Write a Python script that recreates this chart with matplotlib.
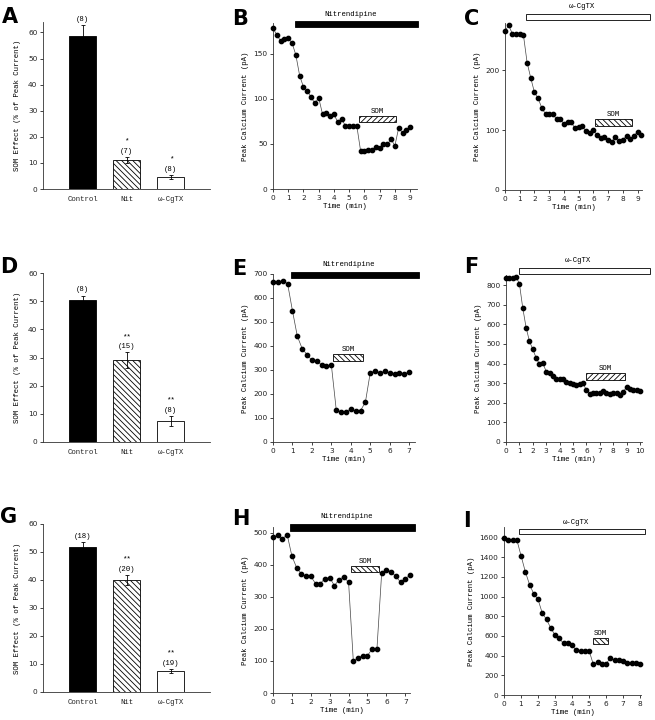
import matplotlib
matplotlib.use("Agg")
import matplotlib.pyplot as plt
import matplotlib.transforms as mtransforms
from matplotlib.patches import Rectangle

W, H = 655, 720
plt.rcParams['font.family'] = ['Liberation Mono', 'DejaVu Sans']
plt.rcParams['hatch.linewidth'] = 0.6

# ---------------- bar chart data ----------------
bar_categories = ["Control", "Nit", "\u03c9-CgTX"]
A_means = [58.5, 11.0, 4.7]
A_err = [4.5, 1.2, 0.8]
A_n = ["(8)", "(7)", "(8)"]
A_sig = ["", "*", "*"]

D_means = [50.3, 29.0, 7.5]
D_err = [1.7, 2.8, 1.7]
D_n = ["(8)", "(15)", "(8)"]
D_sig = ["", "**", "**"]

G_means = [51.7, 40.0, 7.5]
G_err = [2.0, 1.8, 0.8]
G_n = ["(18)", "(20)", "(19)"]
G_sig = ["", "**", "**"]

# ---------------- time course data ----------------
B_t = [i * 0.25 for i in range(37)]
B_y = [178, 171, 164, 166, 167, 162, 148.5, 125.6, 113, 109, 101.6, 95, 101, 83, 84, 81, 83, 74, 78,
       70, 70, 70, 70, 42, 42, 43.6, 43, 47, 45.4, 50, 49.5, 55, 48, 68, 62, 65, 68.7]
B_drug = ("Nitrendipine", 1.45, 9.5)
B_som = (5.66, 8.05)

C_t = [i * 0.25 for i in range(38)]
C_y = [265.6, 275, 261, 261, 261, 259, 213, 187, 163, 153, 137, 127, 127, 127, 118, 119.4, 110, 113, 113,
       103, 105.6, 106.7, 98, 96, 100, 91.7, 87, 89, 82.8, 80.6, 89, 82, 83, 91, 85.6, 91, 96.7, 92]
C_drug = ("\u03c9-CgTX", 1.4, 9.84)
C_som = (6.1, 8.63)

E_t = [i * 0.25 for i in range(29)]
E_y = [665, 667, 672, 660, 547, 441, 389, 364, 340, 336, 322, 315, 321, 135, 124, 125.5, 138, 128, 131,
       166, 289, 296, 289, 294, 286, 283, 289, 283, 293]
E_drug = ("Nitrendipine", 0.93, 7.5)
E_som = (3.1, 4.64)

F_t = [i * 0.25 for i in range(41)]
F_y = [839, 839, 839, 843, 808, 684, 584, 514, 473, 429, 397, 403, 359, 354, 337, 320, 322, 322, 308,
       301, 294, 293, 294, 300, 264, 245, 250, 250, 252, 260, 252, 243, 252, 252, 240, 257, 279, 271,
       265, 264, 262]
F_drug = ("\u03c9-CgTX", 0.98, 10.78)
F_som = (5.96, 8.85)

H_t = [i * 0.25 for i in range(30)]
H_y = [486.5, 492, 481, 494, 427.5, 391, 372, 364, 364, 341.6, 341.6, 357, 360, 335, 354, 363, 345,
       100, 110, 117, 117, 137, 137, 374, 385, 378, 364, 346, 357, 367.5]
H_drug = ("Nitrendipine", 0.92, 7.54)
H_som = (4.13, 5.6)

I_t = [i * 0.25 for i in range(33)]
I_y = [1600, 1580, 1573, 1580, 1417, 1255, 1123, 1028, 971, 832, 768, 680, 609, 575, 524, 531, 507, 453,
       450, 443, 450, 311, 335, 311, 318, 375, 352, 355, 342, 321, 325, 328, 311]
I_drug = ("\u03c9-CgTX", 0.86, 8.27)
I_som = (5.21, 6.1)

fig = plt.figure(figsize=(W / 100, H / 100), dpi=100)


def rect(l, r, b, t):
    return [l / W, 1 - b / H, (r - l) / W, (b - t) / H]


FS = 5.3


def style(ax):
    for s in ("top", "right"):
        ax.spines[s].set_visible(False)
    for s in ("left", "bottom"):
        ax.spines[s].set_linewidth(0.6)
        ax.spines[s].set_color("#333333")
    ax.tick_params(direction="out", length=2, width=0.6, labelsize=FS, pad=2, colors="#222222")
    for lab in ax.get_xticklabels() + ax.get_yticklabels():
        lab.set_family(["DejaVu Sans"])


def add_letter(letter, letter_xy):
    fig.text(letter_xy[0] / W, 1 - (letter_xy[1] + 2) / H, letter, fontsize=15, fontweight="heavy",
             family="DejaVu Sans", ha="left", va="baseline")


def bar_panel(pos, means, errs, ns, sigs, ytop, letter, letter_xy):
    ax = fig.add_axes(rect(*pos))
    x = list(range(len(bar_categories)))
    colors = ["black", "white", "white"]
    hatches = [None, "\\\\\\\\\\\\", None]
    for i in x:
        ax.bar(i, means[i], width=0.61, color=colors[i], edgecolor="black", linewidth=0.6,
               hatch=hatches[i], zorder=2)
    ax.errorbar(x, means, yerr=errs, fmt="none", ecolor="black", elinewidth=0.6, capsize=1.5,
                capthick=0.6, zorder=3)
    for i in x:
        top = means[i] + errs[i]
        ax.annotate(ns[i], (i, top), xytext=(0, 1.5), textcoords="offset points", ha="center",
                    va="bottom", fontsize=FS)
        if sigs[i]:
            ax.annotate(sigs[i], (i, top), xytext=(0, 9), textcoords="offset points", ha="center",
                        va="bottom", fontsize=FS)
    ax.set_xlim(-0.9, 2.89)
    ax.set_ylim(0, ytop)
    ax.set_yticks(range(0, 61, 10))
    ax.set_xticks(x)
    ax.set_xticklabels(bar_categories)
    style(ax)
    ax.tick_params(axis="x", length=0, pad=5)
    for lab in ax.get_xticklabels():
        lab.set_family(["Liberation Mono", "DejaVu Sans"])
    ax.set_ylabel("SOM Effect (% of Peak Current)", fontsize=FS, labelpad=5)
    add_letter(letter, letter_xy)
    return ax


def time_panel(pos, t, y, drug, som, xmax, xticks, ylim, yticks, drug_y, drug_lab_y, filled,
               som_hatch, letter, letter_xy):
    ax = fig.add_axes(rect(*pos))
    ax.plot(t, y, color="#444444", linewidth=0.5, zorder=2)
    ax.plot(t, y, "o", color="black", markersize=3.1, zorder=3, clip_on=False)
    ax.set_xlim(0, xmax)
    ax.set_ylim(0, ylim)
    ax.set_xticks(xticks)
    ax.set_yticks(yticks)
    style(ax)
    ax.set_xlabel("Time (min)", fontsize=FS, labelpad=2)
    ax.set_ylabel("Peak Calcium Current (pA)", fontsize=FS, labelpad=3)
    trans = mtransforms.blended_transform_factory(ax.transData, ax.transAxes)
    name, x0, x1 = drug
    ax.add_patch(Rectangle((x0, drug_y[0]), x1 - x0, drug_y[1] - drug_y[0], transform=trans,
                           facecolor="black" if filled else "white", edgecolor="black",
                           linewidth=0.6, clip_on=False, zorder=4))
    ax.text(x0 + (x1 - x0) * 0.45, drug_lab_y, name, transform=trans, ha="center", va="center",
            fontsize=FS)
    s0, s1, sy0, sy1 = som
    ax.add_patch(Rectangle((s0, sy0), s1 - s0, sy1 - sy0, facecolor="white", edgecolor="black",
                           linewidth=0.6, hatch=som_hatch, zorder=4))
    ax.annotate("SOM", ((s0 + s1) / 2, sy1), xytext=(0, 1.0), textcoords="offset points",
                ha="center", va="bottom", fontsize=FS)
    add_letter(letter, letter_xy)
    return ax


# Row 1
bar_panel((43, 210, 189, 22), A_means, A_err, A_n, A_sig, 64, "A", (2, 21))
time_panel((273, 417, 189, 23), B_t, B_y, B_drug, B_som + (74.5, 81), 9.45, range(10), 184,
           [0, 50, 100, 150], (0.976, 1.012), 1.054, True, "//////", "B", (232, 23))
time_panel((505, 642, 190, 23), C_t, C_y, C_drug, C_som + (107, 118), 9.3, range(10), 279,
           [0, 100, 200], (1.018, 1.054), 1.10, False, "\\\\\\\\\\\\", "C", (464, 23))

# Row 2
bar_panel((43, 210, 442, 273), D_means, D_err, D_n, D_sig, 60, "D", (0, 271))
time_panel((273, 415, 442, 274), E_t, E_y, E_drug, E_som + (339, 365), 7.3, range(8), 700,
           range(0, 701, 100), (0.976, 1.012), 1.054, True, "\\\\\\\\\\\\", "E", (232, 273))
time_panel((506, 642, 442, 275), F_t, F_y, F_drug, F_som + (318, 352), 10.15, range(11), 852,
           range(0, 801, 100), (1.006, 1.042), 1.084, False, "//////", "F", (464, 271))

# Row 3
bar_panel((43, 210, 692, 524), G_means, G_err, G_n, G_sig, 60, "G", (0, 521))
time_panel((273, 410, 693, 527), H_t, H_y, H_drug, H_som + (378, 396), 7.25, range(8), 518,
           range(0, 501, 100), (0.976, 1.018), 1.066, True, "\\\\\\\\\\\\", "H", (232, 523))
time_panel((504, 641, 695, 527), I_t, I_y, I_drug, I_som + (514, 575), 8.05, range(9), 1708,
           range(0, 1601, 200), (0.958, 0.988), 1.024, False, "\\\\\\\\\\\\", "I", (463, 525))

fig.savefig("out.png", dpi=100, facecolor="white")
